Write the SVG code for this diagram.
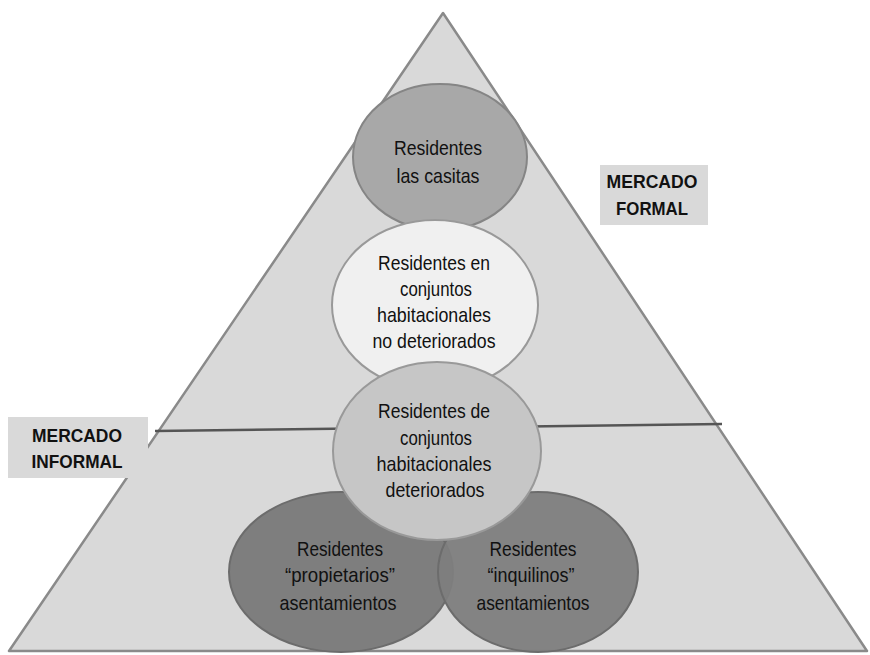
<svg xmlns="http://www.w3.org/2000/svg" width="870" height="655" viewBox="0 0 870 655">
<style>
.t{font-family:"Liberation Sans",Arial,sans-serif;font-size:21px;fill:#111;text-anchor:middle}
.b{font-family:"Liberation Sans",Arial,sans-serif;font-size:19px;font-weight:bold;fill:#111;text-anchor:middle}
.e{stroke-width:2}
</style>
<rect width="870" height="655" fill="#fff"/>
<g id="pyramid">
<polygon points="443,13 9,651 867,651" fill="#d9d9d9" stroke="#8a8a8a" stroke-width="2.5" stroke-linejoin="round"/>
</g>
<g id="connectors">
<line x1="155" y1="431" x2="722" y2="424" stroke="#555" stroke-width="2.5"/>
</g>
<g id="node-casitas">
<ellipse class="e" cx="440" cy="157" rx="87" ry="73" fill="#a8a8a8" stroke="#858585"/>
<text class="t" x="438" y="155" textLength="88" lengthAdjust="spacingAndGlyphs">Residentes</text>
<text class="t" x="438" y="183" textLength="83" lengthAdjust="spacingAndGlyphs">las casitas</text>
</g>
<g id="node-no-deteriorados">
<ellipse class="e" cx="435" cy="305" rx="103" ry="85" fill="#f0f0f0" stroke="#999"/>
<text class="t" x="434" y="270" textLength="112" lengthAdjust="spacingAndGlyphs">Residentes en</text>
<text class="t" x="436" y="296" textLength="72" lengthAdjust="spacingAndGlyphs">conjuntos</text>
<text class="t" x="434" y="322" textLength="114" lengthAdjust="spacingAndGlyphs">habitacionales</text>
<text class="t" x="434" y="348" textLength="123" lengthAdjust="spacingAndGlyphs">no deteriorados</text>
</g>
<g id="node-propietarios">
<ellipse class="e" cx="341" cy="572" rx="112" ry="80" fill="#7e7e7e" stroke="#6c6c6c"/>
<text class="t" x="340" y="556" textLength="86" lengthAdjust="spacingAndGlyphs">Residentes</text>
<text class="t" x="340" y="582" textLength="110" lengthAdjust="spacingAndGlyphs">“propietarios”</text>
<text class="t" x="338" y="610" textLength="117" lengthAdjust="spacingAndGlyphs">asentamientos</text>
</g>
<g id="node-inquilinos">
<ellipse class="e" cx="538" cy="572" rx="100" ry="80" fill="#7e7e7e" stroke="#6c6c6c" fill-opacity="0.95"/>
<text class="t" x="533" y="556" textLength="87" lengthAdjust="spacingAndGlyphs">Residentes</text>
<text class="t" x="531" y="582" textLength="87" lengthAdjust="spacingAndGlyphs">“inquilinos”</text>
<text class="t" x="533" y="610" textLength="113" lengthAdjust="spacingAndGlyphs">asentamientos</text>
</g>
<g id="node-deteriorados">
<ellipse class="e" cx="437" cy="451" rx="104" ry="89" fill="#c6c6c6" stroke="#999"/>
<text class="t" x="434" y="418" textLength="112" lengthAdjust="spacingAndGlyphs">Residentes de</text>
<text class="t" x="436" y="445" textLength="72" lengthAdjust="spacingAndGlyphs">conjuntos</text>
<text class="t" x="434" y="471" textLength="115" lengthAdjust="spacingAndGlyphs">habitacionales</text>
<text class="t" x="435" y="497" textLength="99" lengthAdjust="spacingAndGlyphs">deteriorados</text>
</g>
<g id="label-formal">
<rect x="600" y="165" width="108" height="60" fill="#d9d9d9"/>
<text class="b" x="652" y="188" textLength="91" lengthAdjust="spacingAndGlyphs">MERCADO</text>
<text class="b" x="652" y="215" textLength="72" lengthAdjust="spacingAndGlyphs">FORMAL</text>
</g>
<g id="label-informal">
<rect x="8" y="417" width="140" height="61" fill="#d9d9d9"/>
<text class="b" x="77" y="442" textLength="90" lengthAdjust="spacingAndGlyphs">MERCADO</text>
<text class="b" x="77" y="468" textLength="91" lengthAdjust="spacingAndGlyphs">INFORMAL</text>
</g>
</svg>
